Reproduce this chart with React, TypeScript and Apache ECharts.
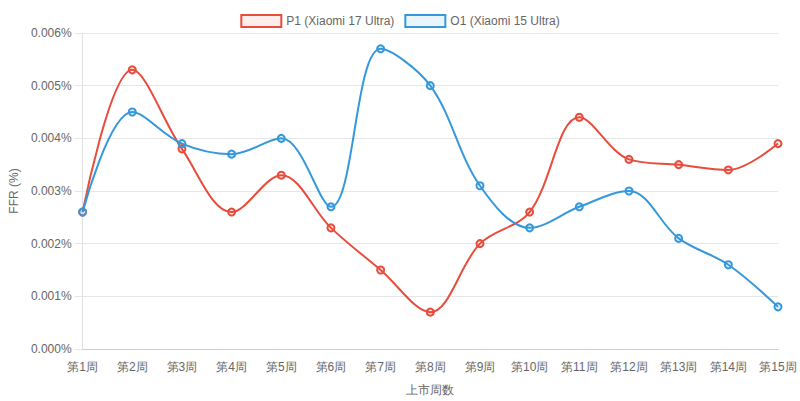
import React, { useEffect, useRef } from "react";
import * as echarts from "echarts";

const weeks = ["第1周", "第2周", "第3周", "第4周", "第5周", "第6周", "第7周", "第8周", "第9周", "第10周", "第11周", "第12周", "第13周", "第14周", "第15周"];
const p1Values = [0.0026, 0.0053, 0.0038, 0.0026, 0.0033, 0.0023, 0.0015, 0.0007, 0.002, 0.0026, 0.0044, 0.0036, 0.0035, 0.0034, 0.0039];
const o1Values = [0.0026, 0.0045, 0.0039, 0.0037, 0.004, 0.0027, 0.0057, 0.005, 0.0031, 0.0023, 0.0027, 0.003, 0.0021, 0.0016, 0.0008];
const p1Name = "P1 (Xiaomi 17 Ultra)";
const o1Name = "O1 (Xiaomi 15 Ultra)";

const FONT = "'Liberation Sans', Arial, Helvetica, sans-serif";

export default function App() {
  const ref = useRef<HTMLDivElement>(null);
  useEffect(() => {
    if (!ref.current) return;
    const chart = echarts.init(ref.current, undefined, { renderer: "svg" });
    const mk = (name: string, data: number[], color: string, fill: string) => ({
      name,
      type: "line",
      data,
      smooth: 0.35,
      symbol: "circle",
      symbolSize: 7,
      showSymbol: true,
      lineStyle: { color, width: 2 },
      itemStyle: { color: fill, borderColor: color, borderWidth: 2 },
      emphasis: { disabled: true },
    });
    chart.setOption({
      animation: false,
      textStyle: { fontFamily: FONT },
      legend: {
        top: 9,
        left: "center",
        icon: "rect",
        itemWidth: 40,
        itemHeight: 12,
        itemGap: 10,
        textStyle: { color: "#666", fontSize: 12, fontFamily: FONT },
        data: [
          { name: p1Name, itemStyle: { color: "rgba(231,76,60,0.1)", borderColor: "#e74c3c", borderWidth: 2 } },
          { name: o1Name, itemStyle: { color: "rgba(52,152,219,0.1)", borderColor: "#3498db", borderWidth: 2 } },
        ],
      },
      grid: { left: 77, right: 22, top: 33, bottom: 50, containLabel: false },
      xAxis: {
        type: "category",
        data: weeks,
        boundaryGap: false,
        name: "上市周数",
        nameLocation: "middle",
        nameGap: 35,
        nameTextStyle: { color: "#666", fontSize: 12, fontFamily: FONT },
        axisLine: { show: true, lineStyle: { color: "#ccc" } },
        axisTick: { show: false },
        axisLabel: { color: "#666", fontSize: 12, margin: 12, fontFamily: FONT, interval: 0 },
        splitLine: { show: false },
      },
      yAxis: {
        type: "value",
        min: 0,
        max: 0.006,
        interval: 0.001,
        name: "FFR (%)",
        nameLocation: "middle",
        nameGap: 62,
        nameTextStyle: { color: "#666", fontSize: 12, fontFamily: FONT },
        axisLine: { show: true, lineStyle: { color: "#e0e0e0" } },
        axisTick: { show: true, length: 8, lineStyle: { color: "#e6e6e6" } },
        axisLabel: { color: "#666", fontSize: 12, margin: 11, fontFamily: FONT, formatter: (v: number) => v.toFixed(3) + "%" },
        splitLine: { show: true, lineStyle: { color: "#e6e6e6" } },
      },
      series: [
        mk(p1Name, p1Values, "#e74c3c", "rgba(231,76,60,0.1)"),
        mk(o1Name, o1Values, "#3498db", "rgba(52,152,219,0.1)"),
      ],
    });
    return () => chart.dispose();
  }, []);
  return <div ref={ref} style={{ width: 800, height: 401, position: "absolute", left: 0, top: 0 }} />;
}
